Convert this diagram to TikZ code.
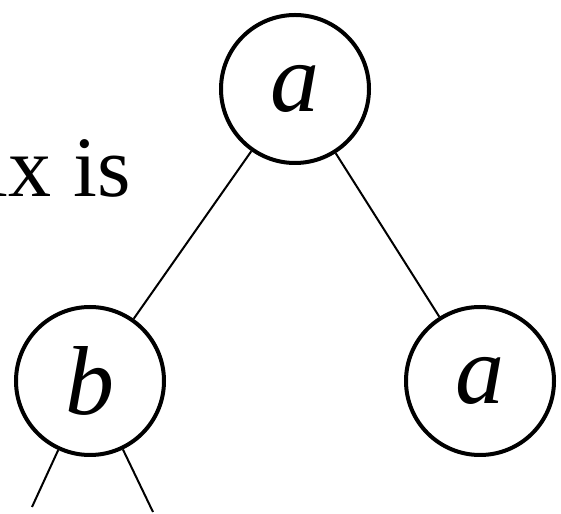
\documentclass[tikz,border=0pt]{standalone}
\usepackage{fontspec}
\setmainfont{Liberation Serif}
\usepackage{tikz}
\usetikzlibrary{calc}
\tikzstyle{vertex}=[circle, draw, line width=4pt, minimum size=148pt, inner sep=0pt, font=\fontsize{98}{98}\selectfont\itshape]
\tikzstyle{edge}=[line width=2pt]
\newcommand{\treeW}{561}
\newcommand{\treeH}{513}
\newcommand{\wideskip}{\spaceskip 22pt\relax}

\begin{document}
\begin{tikzpicture}[x=1pt,y=1pt]
\useasboundingbox (0,0) rectangle (\treeW,\treeH);
\clip (0,0) rectangle (\treeW,\treeH);
\node[vertex] (root) at (295,424) {a};
\node[vertex] (lft) at (90,132) {b};
\node[vertex] (rgt) at (480,132) {a};
\coordinate (lftl) at (32,6);
\coordinate (lftr) at (153,1);
% text running in from the left edge
\node[anchor=base east, inner sep=0pt, font={\fontsize{86}{86}\selectfont\wideskip}] (txt) at (131,316) {ix is};
\draw[edge] (root) -- (lft);
\draw[edge] (root) -- (rgt);
\draw[edge] (lft) -- (lftl);
\draw[edge] (lft) -- (lftr);
\end{tikzpicture}
\end{document}
